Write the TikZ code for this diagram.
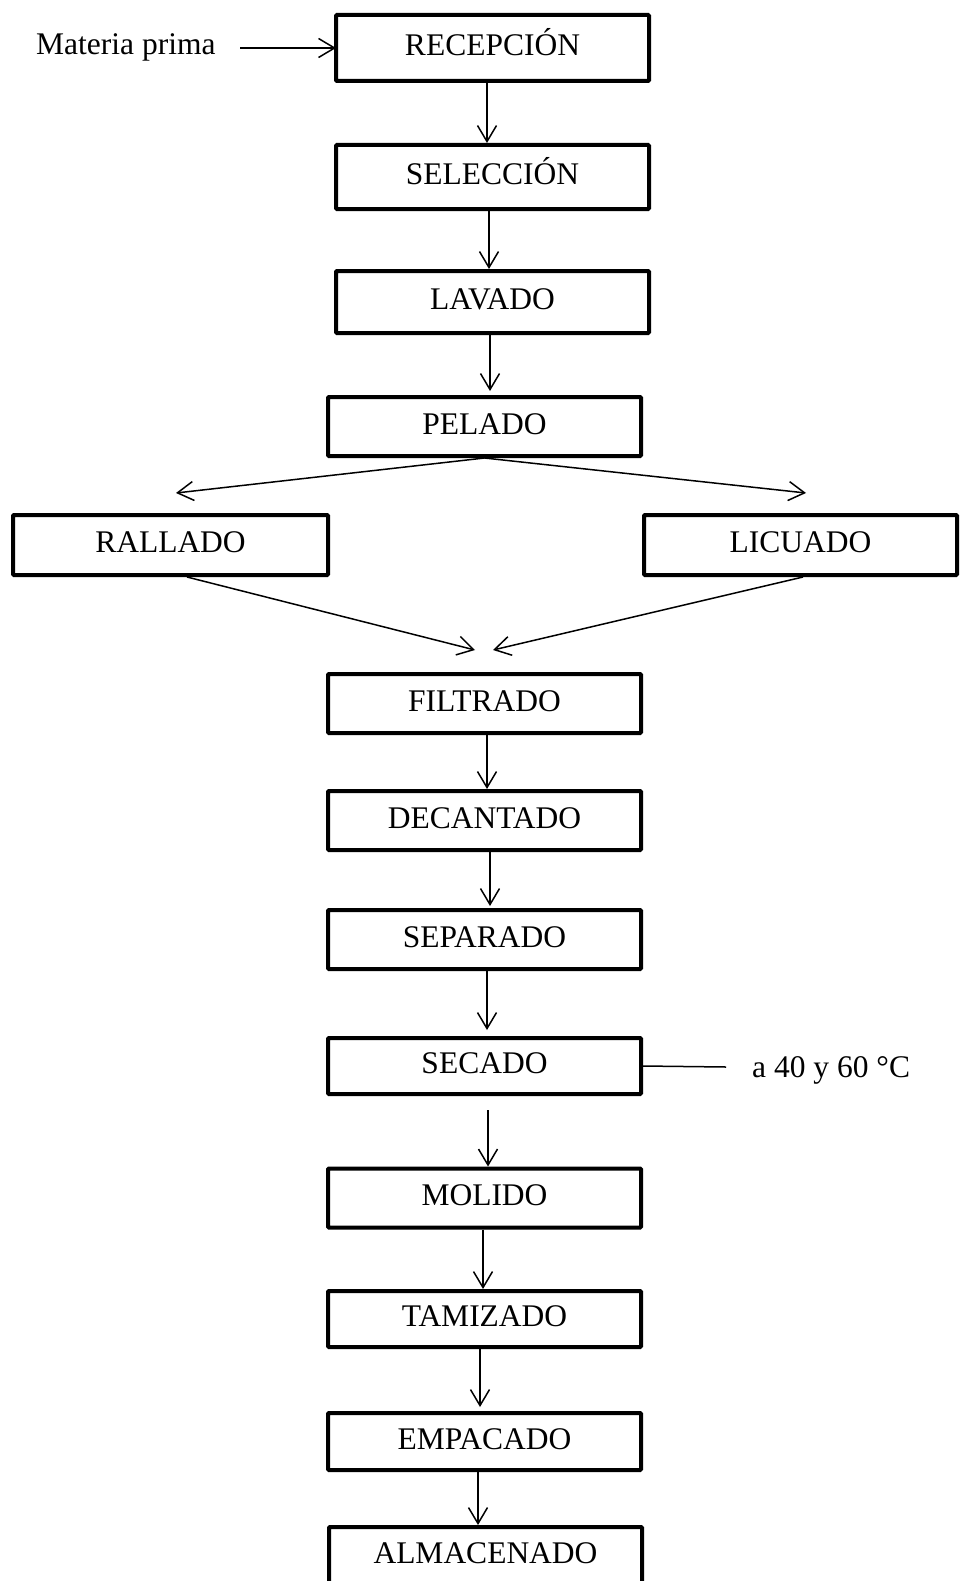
\documentclass[tikz,border=0pt]{standalone}
\usepackage{fontspec}
\setmainfont{Liberation Serif}
\usetikzlibrary{arrows.meta}
\newcommand{\boxfont}{\fontsize{31.5}{36}\selectfont}
\tikzset{
  stepbox/.style={draw, line width=4pt, rounded corners=1pt, minimum width=313pt, inner sep=0pt,
    font=\boxfont, text height=22pt, text depth=7pt},
  arr/.style={-{Straight Barb[length=16pt,width=19pt]}, line width=1.5pt},
  plain/.style={line width=1.5pt},
  lbl/.style={font=\boxfont, inner sep=0pt}
}
\begin{document}
\begin{tikzpicture}[x=1pt,y=-1pt]
\useasboundingbox (0,0) rectangle (961,1581);
% boxes
\node[stepbox, minimum height=66pt] (rec) at (492.5,48) {RECEPCIÓN};
\node[stepbox, minimum height=64pt] (sel) at (492.5,177) {SELECCIÓN};
\node[stepbox, minimum height=62pt] (lav) at (492.5,302) {LAVADO};
\node[stepbox, minimum height=59pt] (pel) at (484.5,426.5) {PELADO};
\node[stepbox, minimum height=60pt, minimum width=315pt] (ral) at (170.5,545) {RALLADO};
\node[stepbox, minimum height=60pt] (lic) at (800.5,545) {LICUADO};
\node[stepbox, minimum height=59pt] (fil) at (484.5,703.5) {FILTRADO};
\node[stepbox, minimum height=59pt] (dec) at (484.5,820.5) {DECANTADO};
\node[stepbox, minimum height=59pt] (sep) at (484.5,939.5) {SEPARADO};
\node[stepbox, minimum height=56pt] (sec) at (484.5,1066) {SECADO};
\node[stepbox, minimum height=59pt] (mol) at (484.5,1198) {MOLIDO};
\node[stepbox, minimum height=56pt] (tam) at (484.5,1319) {TAMIZADO};
\node[stepbox, minimum height=57pt] (emp) at (484.5,1441.5) {EMPACADO};
\node[stepbox, minimum height=58pt] (alm) at (485.5,1556) {ALMACENADO};
% side labels
\node[lbl, anchor=base west] (mp) at (36,55) {Materia prima};
\node[lbl, anchor=base west] (temp) at (752,1077) {a 40 y 60 °C};
\coordinate (mpstart) at (240,48);
\coordinate (secend) at (726,1067);
% free ends
\coordinate (tl) at (176,493);
\coordinate (tr) at (806,493);
\coordinate (fl) at (475,650);
\coordinate (fr) at (493,650);
% connectors
\draw[arr, shorten >=-2pt] (mpstart) -- (rec.west |- mpstart);
\draw[arr] ([xshift=-5.5pt]rec.south) coordinate (a1) -- (a1 |- sel.north);
\draw[arr] ([xshift=-3.5pt]sel.south) coordinate (a2) -- (a2 |- lav.north);
\draw[arr, shorten >=4pt] ([xshift=-2.5pt]lav.south) coordinate (a3) -- (a3 |- pel.north);
\draw[arr] (pel.south) -- (tl);
\draw[arr] (pel.south) -- (tr);
\draw[arr] ([xshift=16.5pt]ral.south) -- (fl);
\draw[arr] ([xshift=2.5pt]lic.south) -- (fr);
\draw[arr] ([xshift=2.5pt]fil.south) coordinate (a4) -- (a4 |- dec.north);
\draw[arr, shorten >=2pt] ([xshift=5.5pt]dec.south) coordinate (a5) -- (a5 |- sep.north);
\draw[arr, shorten >=6pt] ([xshift=2.5pt]sep.south) coordinate (a6) -- (a6 |- sec.north);
\draw[arr, shorten <=14pt] ([xshift=3.5pt]sec.south) coordinate (a7) -- (a7 |- mol.north);
\draw[arr] ([xshift=-1.5pt]mol.south) coordinate (a8) -- (a8 |- tam.north);
\draw[arr, shorten >=4pt] ([xshift=-4.5pt]tam.south) coordinate (a9) -- (a9 |- emp.north);
\draw[arr] ([xshift=-6.5pt]emp.south) coordinate (a10) -- (a10 |- alm.north);
\draw[plain] (sec.east) -- (secend);
\end{tikzpicture}
\end{document}
